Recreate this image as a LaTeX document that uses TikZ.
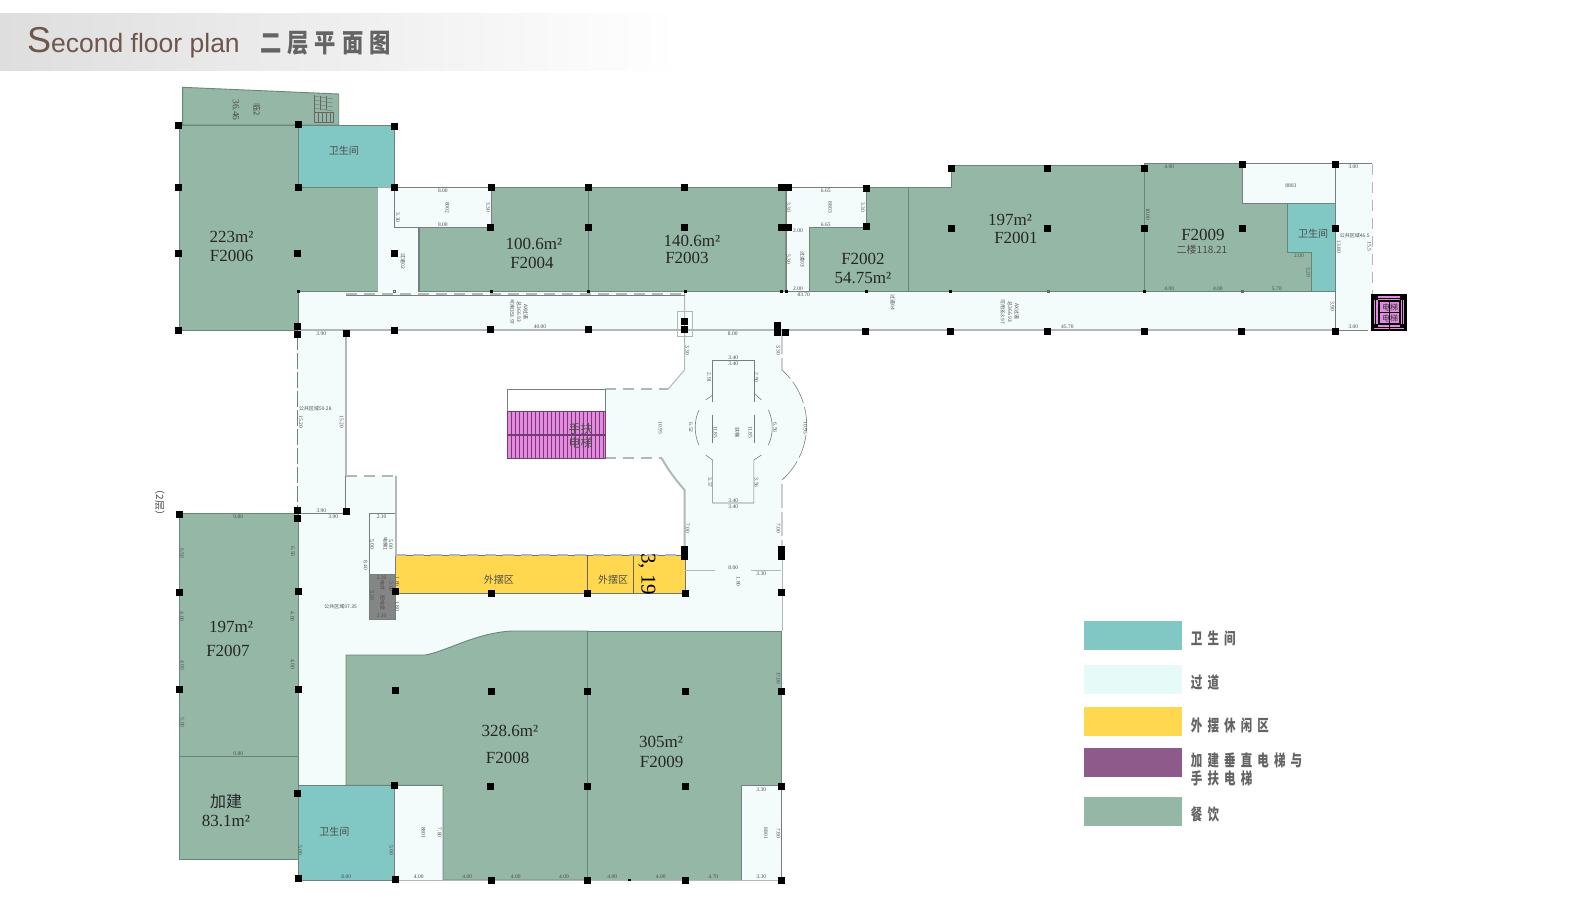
\documentclass[tikz,border=0pt]{standalone}
\usepackage{fontspec}
\setmainfont{Liberation Serif}
\newfontfamily\titlefont{Liberation Sans}
\newfontfamily\cjk{Noto Sans CJK SC}
\newfontfamily\cjkhead[FakeStretch=0.82,LetterSpace=23]{Noto Sans CJK SC}
\newfontfamily\cjkkey[FakeStretch=0.72,LetterSpace=32]{Noto Sans CJK SC}
\definecolor{room_green}{RGB}{149,183,166}
\definecolor{edge_green}{RGB}{105,135,120}
\definecolor{wc_teal}{RGB}{129,199,196}
\definecolor{hall_pale}{RGB}{244,252,251}
\definecolor{key_pale}{RGB}{230,251,248}
\definecolor{yard_yellow}{RGB}{255,216,79}
\definecolor{lift_pink}{RGB}{229,138,224}
\definecolor{lift_dark}{RGB}{115,60,115}
\definecolor{key_purple}{RGB}{142,90,140}
\definecolor{wall_gray}{RGB}{178,184,184}
\definecolor{line_gray}{RGB}{120,125,125}
\definecolor{head_brown}{RGB}{111,86,77}
\definecolor{key_gray}{RGB}{100,100,100}
\definecolor{band_gray}{RGB}{222,222,222}

\begin{document}
\begin{tikzpicture}[x=1pt,y=-1pt]
    \tikzstyle{room}=[fill=room_green,draw=edge_green,line width=.9pt]
    \tikzstyle{wc}=[fill=wc_teal,draw=edge_green,line width=.9pt]
    \tikzstyle{pass}=[fill=hall_pale,draw=line_gray,line width=.7pt]
    \tikzstyle{wall}=[draw=wall_gray,line width=2pt]
    \tikzstyle{gap}=[draw=wall_gray,line width=1.8pt,dash pattern=on 11pt off 7pt]
    \tikzstyle{thin}=[draw=line_gray,line width=.6pt]
    \tikzstyle{thingap}=[draw=line_gray,line width=.6pt,dash pattern=on 24pt off 4pt]
    \tikzstyle{pillar}=[fill=black,minimum size=7pt,inner sep=0pt]
    \tikzstyle{big}=[font=\fontsize{17}{19}\selectfont,text=black!85,inner sep=0pt]
    \tikzstyle{mid}=[font=\cjk\fontsize{10}{12}\selectfont,text=black!70,inner sep=0pt]
    \tikzstyle{dim}=[font=\fontsize{5.5}{6}\selectfont,text=black!70,inner sep=0pt]
    \tikzstyle{vdim}=[style=dim,rotate=-90]
    \tikzstyle{cdim}=[font=\cjk\fontsize{5}{6}\selectfont,text=black!70,inner sep=0pt]
    \tikzstyle{vcdim}=[style=cdim,rotate=-90]
    \tikzstyle{keytext}=[font=\cjkkey\bfseries\fontsize{16}{18}\selectfont,text=key_gray,anchor=west,inner sep=0pt]

    \useasboundingbox (0,0) rectangle (1588,907);
    \fill[white] (0,0) rectangle (1588,907);
    \shade[left color=band_gray,right color=white] (0,14) rectangle (680,71);
    \node[anchor=base west,inner sep=0pt,text=head_brown,font=\titlefont] (title) at (27,52.5)
      {\fontsize{36}{36}\selectfont S\fontsize{26.5}{27}\selectfont econd floor plan};
    \node[anchor=west,inner sep=0pt,text=key_gray,font=\cjkhead\bfseries\fontsize{26}{28}\selectfont] (titlecn) at (260,43) {二层平面图};

    \fill[pass,draw=none] (298,291.5) -- (1335.5,291.5) -- (1335.5,163.5) -- (1372.4,163.5) -- (1372.4,330) -- (298,330) -- cycle;
    \fill[pass,draw=none] (297.7,330) -- (345.6,330) -- (345.6,476) -- (395.8,476) -- (395.8,555) -- (684.5,555) -- (684.5,490)
      .. controls (676,480) and (668,470) .. (661.8,458.3) -- (605.4,458.3) -- (605.4,389.3) -- (667.9,389.3)
      -- (684.5,370) -- (684.5,330) -- (782,330) -- (782,370) .. controls (814.9,399.3) and (814.9,450.7) .. (782,480)
      -- (782,670) -- (346,670) -- (346,790) -- (297.7,790) -- cycle;

    \path[room] (182.6,87.3) -- (338.7,94) -- (338.7,125) -- (182.6,125) -- cycle;
    \path[room] (179,125) -- (298,125) -- (298,187.7) -- (377.6,187.7) -- (377.6,291.5) -- (298,291.5) -- (298,330) -- (179,330) -- cycle;
    \path[wc] (298,125) rectangle (394.5,187.7);
    \path[pass,draw=none] (377.6,187.7) -- (491.5,187.7) -- (491.5,227) -- (418.9,227) -- (418.9,291.5) -- (377.6,291.5) -- cycle;
    \path[room] (418.9,227) -- (491.5,227) -- (491.5,187.3) -- (588.5,187.3) -- (588.5,291.5) -- (418.9,291.5) -- cycle;
    \path[room] (588.5,187.3) rectangle (785.9,291.5);
    \path[pass] (785.9,187.3) -- (866.4,187.3) -- (866.4,227.3) -- (809.9,227.3) -- (809.9,291.5) -- (785.9,291.5) -- cycle;
    \path[room] (809.9,227.3) -- (866.4,227.3) -- (866.4,187.3) -- (908.6,187.3) -- (908.6,291.5) -- (809.9,291.5) -- cycle;
    \path[room] (908.6,187.3) -- (951.6,187.3) -- (951.6,165) -- (1144.5,165) -- (1144.5,291.5) -- (908.6,291.5) -- cycle;
    \path[room] (1144.5,163.5) -- (1242.6,163.5) -- (1242.6,203) -- (1287.2,203) -- (1287.2,252.3) -- (1311.2,252.3) -- (1311.2,291.5) -- (1144.5,291.5) -- cycle;
    \path[pass] (1242.6,163.5) rectangle (1335.5,203);
    \path[wc] (1287.2,203) -- (1335.5,203) -- (1335.5,291.5) -- (1311.2,291.5) -- (1311.2,252.3) -- (1287.2,252.3) -- cycle;

    \path[room] (179.4,513.3) rectangle (298,756.3);
    \path[room] (179.4,756.3) rectangle (298,859.3);
    \path[wc] (298,785.3) rectangle (394.7,880);
    \path[pass] (394.7,785.3) rectangle (443,880);
    \path[room] (346,785.3) -- (346,655) -- (425,655) .. controls (445,652) and (475,633) .. (511.7,631) -- (587.7,631) -- (587.7,880) -- (443,880) -- (443,785.3) -- cycle;
    \path[room] (587.7,631) -- (781.7,631) -- (781.7,785.7) -- (741.7,785.7) -- (741.7,880) -- (587.7,880) -- cycle;
    \path[pass] (741.7,785.7) rectangle (781.7,880);

    \path[fill=yard_yellow,draw=black!55,line width=.9pt] (395,555) rectangle (685,593.3);
    \draw[black!60,line width=.9pt] (587.8,555) -- (587.8,593.3);
    \draw[black!60,line width=.5pt] (633.4,555) -- (633.4,593.3);
    \path[pass] (369,513.3) rectangle (395,574);
    \path[fill=black!48,draw=line_gray,line width=.7pt] (369,574) rectangle (395,619);

    \path[wall] (298,330) -- (1335.5,330);
    \path[wall] (345.6,330) -- (345.6,476);
    \path[wall] (395.8,476) -- (395.8,555);
    \path[gap] (345.6,294) -- (684.5,294);
    \path[gap] (345.6,476) -- (395.8,476);
    \path[gap] (395,555) -- (684,555);
    \path[gap] (605.4,389.3) -- (667.9,389.3);
    \path[gap] (605.4,458.3) -- (661.8,458.3);
    \path[gap] (1372.4,163.5) -- (1372.4,294);
    \path[wall,line width=1pt] (684.5,291.5) -- (684.5,370) -- (667.9,389.3);
    \path[wall] (661.8,458.3) .. controls (668,470) and (676,480) .. (684.5,490) -- (684.5,555);
    \path[thin] (346,294.8) -- (684.5,294.8);
    \path[thin] (394.5,187.7) -- (491.5,187.7) -- (491.5,227) -- (394.5,227) -- cycle;
    \path[thin] (418.9,227) -- (418.9,291.5);
    \path[thin] (1335.5,163.5) -- (1372.4,163.5);
    \path[thin] (1335.5,291.5) -- (1335.5,330);
    \path[thin] (1335.5,330) -- (1368,330);
    \path[thin] (605.4,389.3) -- (605.4,458.3);
    \path[thin] (298,513) -- (345.6,513);
    \path[thin] (507.3,389.3) rectangle (605.4,411.7);
    \path[thin,dash pattern=on 16pt off 3pt] (297.7,334) -- (297.7,513);
    \path[thin] (345.6,476) -- (345.6,513);
    \path[thingap] (782,330) -- (782,370) .. controls (814.9,399.3) and (814.9,450.7) .. (782,480) -- (782,549);
    \path[wall,line width=1pt] (782,555) -- (782,631);
    \path[wall,line width=1.2pt] (394.7,880.5) -- (781.7,880.5);
    \path[draw=wall_gray,line width=.7pt,dash pattern=on 30pt off 36pt] (685,570.3) -- (782,570.3);
    \path[thin] (712.6,401.7) -- (712.6,360.7) -- (753.8,360.7) -- (753.8,401.7);
    \path[thin] (712.6,395) -- (705.8,400);
    \path[thin] (753.8,393) -- (761.5,400);
    \path[thin] (712.6,415) -- (712.6,443);
    \path[thin] (753.8,415) -- (753.8,443);
    \path[thin] (705.8,455) -- (712.6,460) -- (712.6,503) -- (753.8,503) -- (753.8,460) -- (761.5,455);
    \path[thin] (699,410) .. controls (694,420) and (694,435) .. (699,445);
    \path[thin] (768.3,410) .. controls (773.5,420) and (773.5,435) .. (768.3,445);
    \path[draw=wall_gray,line width=.6pt] (677.4,311) rectangle (692.3,336);

    \path[fill=lift_pink,draw=lift_dark,line width=1.2pt] (507.3,411.7) rectangle (605.4,458.3);
    \foreach \x in {511,515,...,605}
      \draw[lift_dark,line width=.8pt] (\x,411.7) -- (\x,458.3);
    \draw[lift_dark,line width=1.6pt] (507.3,435) -- (605.4,435);
    \node[font=\cjk\fontsize{12}{13.5}\selectfont,text=black!70,align=center,inner sep=0pt] (esc) at (580.7,436) {手扶\\电梯};

    \path[fill=lift_pink,draw=black,line width=2.2pt] (1372.4,294.7) rectangle (1405.5,330.3);
    \draw[black,line width=.7pt] (1375.5,298) rectangle (1402.5,327);
    \draw[black,line width=1.6pt] (1379,301) rectangle (1400,324);
    \draw[black,line width=.8pt] (1389.5,301) -- (1389.5,330);
    \draw[black,line width=.8pt] (1379,312.5) -- (1400,312.5);
    \node[font=\cjk\fontsize{8}{11}\selectfont,text=black!80,align=center,inner sep=0pt] (lift) at (1390,312.5) {电梯\\电梯};
    \foreach \x/\y in {1376/298,1402/298,1376/326,1402/326}
      \fill[black] (\x-1.8,\y-1.8) rectangle (\x+1.8,\y+1.8);

    \draw[black!60,line width=.4pt] (314,95) -- (314,122);
    \draw[black!60,line width=.4pt] (314,122) -- (333,122) -- (333,112) -- (314,112);
    \foreach \x in {318,322,326,330}
      \draw[black!60,line width=.3pt] (\x,112) -- (\x,122);
    \foreach \y in {96,100,104,108}
      \draw[black!60,line width=.3pt] (314,\y) -- (333,\y+3);
    \foreach \x in {320,326}
      \draw[black!60,line width=.3pt] (\x,96) -- (\x,110);

    \foreach \x/\y [count=\i] in {178.8/125,298.2/124.7,394.9/126.3,178.8/187.7,298.2/187.7,394.5/187.7,491.5/187.3,490.9/227,178.8/253,297.8/253,394.2/253,178.8/330,297.8/326.7,297.8/334,346.9/333.3,394.2/330,490.9/329.7,
      588.5/187.3,684.5/187.3,781.2/187.3,788/187.3,866/188.7,951.2/168,1047.9/168,588.5/227,684.8/227,781.2/227,788.3/227,866.4/226.7,951.2/228.3,1047.9/228.3,
      588.1/329.7,684.8/321.7,684.8/329.7,777.8/325,777.8/332.3,785.2/332.3,865.7/331.3,950.5/331.3,1047.2/331.3,
      1144.5/168,1242.2/164.7,1335.2/164.7,1144.9/228.7,1242.2/228.7,1335.5/228.7,1144.5/331.3,1241.9/331.3,1335.2/331.3,
      179.4/514,297.7/510.7,297.7/518.3,346.8/511,395/591.7,491.1/593,587.8/593,179.4/592.7,298/591.3,
      179.3/689.3,298/689.7,395/690.3,491/691.3,587.7/691.3,394.7/785,490.7/786.3,587.7/786.3,297.3/793.3,298/878.3,395/879,491/880.3,587.7/880.3,
      684.3/549.3,684.3/556.7,781.7/549.3,781.7/556.7,685/593.3,781.7/592.7,685/691.7,781.7/691,685/786.7,781.7/786,685/880.3,781.7/880}
      \node[pillar] (p\i) at (\x,\y) {};
    \foreach \x in {298,491.5,588.5,685,781.5,786,866.4,950.5,1144.2}
      \fill[black] (\x-1.5,290) rectangle (\x+1.5,293);
    \fill[black] (628,879) rectangle (630.5,881);
    \foreach \x in {394.2,1048,1242.2}
      \draw[black!60,line width=.4pt] (\x-1.2,290) rectangle (\x+1.2,292.5);

    \node[big] (a6) at (231.6,236.7) {223m²};
    \node[big] (f6) at (231.6,256) {F2006};
    \node[big] (a4) at (534,244) {100.6m²};
    \node[big] (f4) at (532,262.5) {F2004};
    \node[big] (a3) at (692,241) {140.6m²};
    \node[big] (f3) at (687,258) {F2003};
    \node[big] (f2) at (863,259) {F2002};
    \node[big] (a2) at (863,278.5) {54.75m²};
    \node[big] (a1) at (1010,220) {197m²};
    \node[big] (f1) at (1016,238) {F2001};
    \node[big] (f9) at (1203,235) {F2009};
    \node[mid] (a9) at (1202,249.3) {二楼118.21};
    \node[big] (a7) at (231,627) {197m²};
    \node[big] (f7) at (228,651) {F2007};
    \node[big,font=\cjk\fontsize{16}{18}\selectfont] (add) at (226,801) {加建};
    \node[big] (aa) at (226,821) {83.1m²};
    \node[big] (a8) at (510,730.7) {328.6m²};
    \node[big] (f8) at (507.7,758) {F2008};
    \node[big] (a10) at (661,741.7) {305m²};
    \node[big] (f10) at (661.7,762.3) {F2009};
    \node[mid] (wc1) at (343.8,150.7) {卫生间};
    \node[mid] (wc2) at (1313,234) {卫生间};
    \node[mid] (wc3) at (334.3,831.3) {卫生间};
    \node[mid] (out1) at (498.9,579.3) {外摆区};
    \node[mid] (out2) at (613,579.3) {外摆区};
    \node[rotate=-90,inner sep=0pt,font=\fontsize{21}{22}\selectfont,text=black] (num) at (647,574) {3, 19};
    \node[mid,rotate=-90] (floor) at (160,502.7) {（2层）};
    \node[mid,rotate=-90,font=\cjk\fontsize{8}{9}\selectfont] (lin) at (257,109.3) {临2};
    \node[rotate=-90,inner sep=0pt,font=\fontsize{9.5}{10}\selectfont,text=black!70] (lina) at (236,110) {36.46};

    \foreach \x/\y/\t [count=\i] in {442.9/190.7/8.00,442.9/224.3/8.00,321.2/333.3/3.90,540/327/40.00,825.8/190.3/6.65,825.8/224.3/6.65,798/230.3/2.00,798/288.3/2.00,803.8/294.3/83.70,
      732.8/333.3/8.00,733.2/357.7/3.40,733.2/363.7/3.40,733.3/501/3.40,733.3/506.7/3.40,733.3/567.3/8.00,761.3/573.7/3.30,761.3/789.3/3.30,761.3/877/3.30,713.3/877/4.70,660.7/877/4.00,612.3/877/4.00,564/877/4.00,515.7/877/4.00,467.3/877/4.00,418.7/877/4.00,346.3/877/8.00,238.3/753.7/9.80,
      321.4/510.7/3.90,333.2/517/3.90,238.2/517/9.80,381.6/517/2.10,381.6/577.7/2.10,381.6/615.7/2.10,1169.2/166.3/4.00,1353.4/166.3/3.00,1299/255.7/2.00,1169.2/288.3/4.00,1217.9/288.3/4.00,1276.7/288.3/5.70,1067.4/327/45.70,1353.4/327/3.00}
      \node[dim] (dh\i) at (\x,\y) {\t};
    \foreach \x/\y/\t [count=\i] in {488.2/207.3/3.30,397.9/217.7/3.30,788.6/207.3/3.30,863/207.3/3.30,788.6/259.3/5.30,687.5/350/3.30,778.5/350/3.30,709.2/377.7/2.91,756.5/377.7/2.90,660.5/427.7/10.95,691/427.7/6.52,715.3/432.3/11.85,750.4/432.3/11.85,775.1/427.7/6.56,805.5/427.7/10.95,709.8/482.7/3.57,756.5/482.7/3.56,
      687.7/528.3/7.00,778.3/528.3/7.00,738.3/581.7/1.80,778.3/678.3/17.00,778.3/833.3/7.80,300.3/850/5.00,391.3/850/5.00,439.7/832.7/7.80,182.3/665/4.00,292.7/664/4.00,182.3/722.7/5.00,
      300.8/422/15.20,341.7/422/15.20,182.1/553.3/6.50,293/551.7/6.50,372.1/544/5.00,391/544/5.00,365.7/565/8.40,182/616.7/4.00,292.3/616.7/4.00,397.5/581.7/1.80,397.5/606/1.80,372.1/595/3.20,391/586.7/3.90,1147.9/214.3/10.00,1338.9/246.7/13.80,1369.3/246.7/15.5,1308.5/272.3/3.20,1332.5/306.3/3.90,
      447.3/207.7/8002,830.2/207.3/8803,766/833.3/8801,423.3/832.7/8801}
      \node[vdim] (dv\i) at (\x,\y) {\t};
    \foreach \x/\y/\t [count=\i] in {403/261/过道02,802.5/259.3/过道03,892.7/302.3/过道04,737.2/432.3/扶梯,525.7/312/AX过道,519/312/总366.93,512.2/312/可用353.97,1016.8/311.7/AX过道,1010/311.7/总366.93,1002.6/311.7/可用353.97,385.6/544/电梯1,382.6/585.7/电井,382.6/603.3/配电室}
      \node[vcdim] (dc\i) at (\x,\y) {\t};
    \node[cdim] (pub1) at (315.3,408.3) {公共区域59.28};
    \node[cdim] (pub2) at (340.7,606.3) {公共区域97.35};
    \node[cdim] (pub3) at (1354.8,235.7) {公共区域46.5};
    \node[dim] (r3) at (1290.9,185.3) {8803};

    \fill[wc_teal] (1084,621) rectangle (1182,650);
    \fill[key_pale] (1084,665) rectangle (1182,694);
    \fill[yard_yellow] (1084,707) rectangle (1182,736);
    \fill[key_purple] (1084,748) rectangle (1182,777);
    \fill[room_green] (1084,797) rectangle (1182,826);
    \node[keytext] (k1) at (1190.7,638) {卫生间};
    \node[keytext] (k2) at (1190.7,682.5) {过道};
    \node[keytext] (k3) at (1190.7,725) {外摆休闲区};
    \node[keytext] (k4) at (1190.7,760) {加建垂直电梯与};
    \node[keytext] (k5) at (1190.7,778.5) {手扶电梯};
    \node[keytext] (k6) at (1190.7,814) {餐饮};
\end{tikzpicture}
\end{document}
